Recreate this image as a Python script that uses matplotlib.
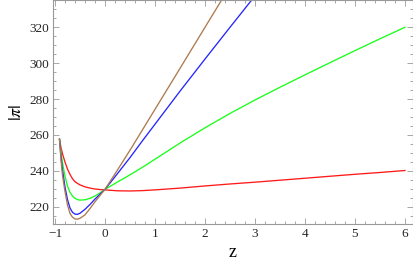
import matplotlib
matplotlib.use("Agg")
import matplotlib.pyplot as plt
from matplotlib.ticker import MultipleLocator, FuncFormatter

plt.rcParams['font.family'] = ['Liberation Serif', 'DejaVu Serif']
plt.rcParams['mathtext.fontset'] = 'stix'

z = [-0.91, -0.88, -0.85, -0.8, -0.75, -0.7, -0.65, -0.6, -0.55, -0.5, -0.4, -0.3,
     -0.2, -0.1, 0.0, 0.25, 0.5, 0.75, 1.0, 1.5, 2.0, 2.5, 3.0, 3.5, 4.0, 4.5,
     5.0, 5.5, 6.0]

red = [257.6, 253.0, 249.5, 244.9, 241.0, 238.0, 235.6, 234.0, 233.0, 232.2, 231.1, 230.4,
       229.9, 229.6, 229.4, 228.9, 228.8, 229.0, 229.4, 230.4, 231.6, 232.7, 233.7, 234.8,
       235.9, 237.0, 238.1, 239.1, 240.2]
green = [257.6, 250.5, 244.5, 237.0, 231.5, 228.0, 226.0, 224.7, 224.0, 223.7, 223.9, 224.7,
         226.0, 227.7, 229.7, 233.8, 237.8, 242.0, 246.5, 255.5, 264.0, 272.0, 279.5, 286.6,
         293.5, 300.3, 307.0, 313.6, 320.0]
blue = [257.6, 248.0, 240.5, 231.0, 224.0, 219.3, 216.9, 215.9, 215.8, 216.4, 218.6, 221.3,
        224.3, 227.0, 229.7, 238.5, 247.4, 256.8, 266.0, 284.4, 302.3, 320.0, 337.5, 355.0,
        372.0, 389.0, 406.0, 423.0, 440.0]
brown = [257.6, 246.0, 237.5, 228.5, 221.0, 216.3, 214.2, 213.2, 213.1, 213.6, 215.5, 219.0,
         222.8, 226.3, 229.7, 240.5, 251.5, 262.9, 274.3, 297.1, 320.0, 342.8, 365.6, 388.0,
         411.0, 433.5, 456.0, 478.5, 501.0]

series = [(red, (1, 0.1, 0.1)), (green, (0.1, 1, 0.1)), (blue, (0.15, 0.15, 1)),
          (brown, (0.68, 0.48, 0.3))]

fig = plt.figure(figsize=(4.14, 2.65), dpi=100)
ax = fig.add_axes([53/414, 41/265, 360/414, 224/265])

for vals, col in series:
    ax.plot(z, vals, color=col, lw=0.95)

ax.set_xlim(-1.04, 6.16)
ax.set_ylim(210.4, 335.2)

ax.xaxis.set_major_locator(MultipleLocator(1))
ax.xaxis.set_minor_locator(MultipleLocator(0.2))
ax.yaxis.set_major_locator(MultipleLocator(20))
ax.yaxis.set_minor_locator(MultipleLocator(5))

fc = (0.6, 0.6, 0.6)
for s in ax.spines.values():
    s.set_color(fc)
    s.set_linewidth(0.8)
ax.tick_params(which='both', direction='in', top=True, right=True, color=fc,
               labelsize=9.5, labelcolor=(0.15, 0.15, 0.15), width=0.6)
ax.tick_params(which='major', length=4, pad=3)
ax.tick_params(which='minor', length=2.2)
ax.xaxis.set_major_formatter(FuncFormatter(
    lambda v, p: ('\u2212%d' % -v) if v < 0 else '%d' % v))

ax.set_xlabel('z', fontsize=13, labelpad=3)
ax.set_ylabel(r'$|\pi|$', fontsize=13, labelpad=3)

fig.savefig('out.png', dpi=100)
